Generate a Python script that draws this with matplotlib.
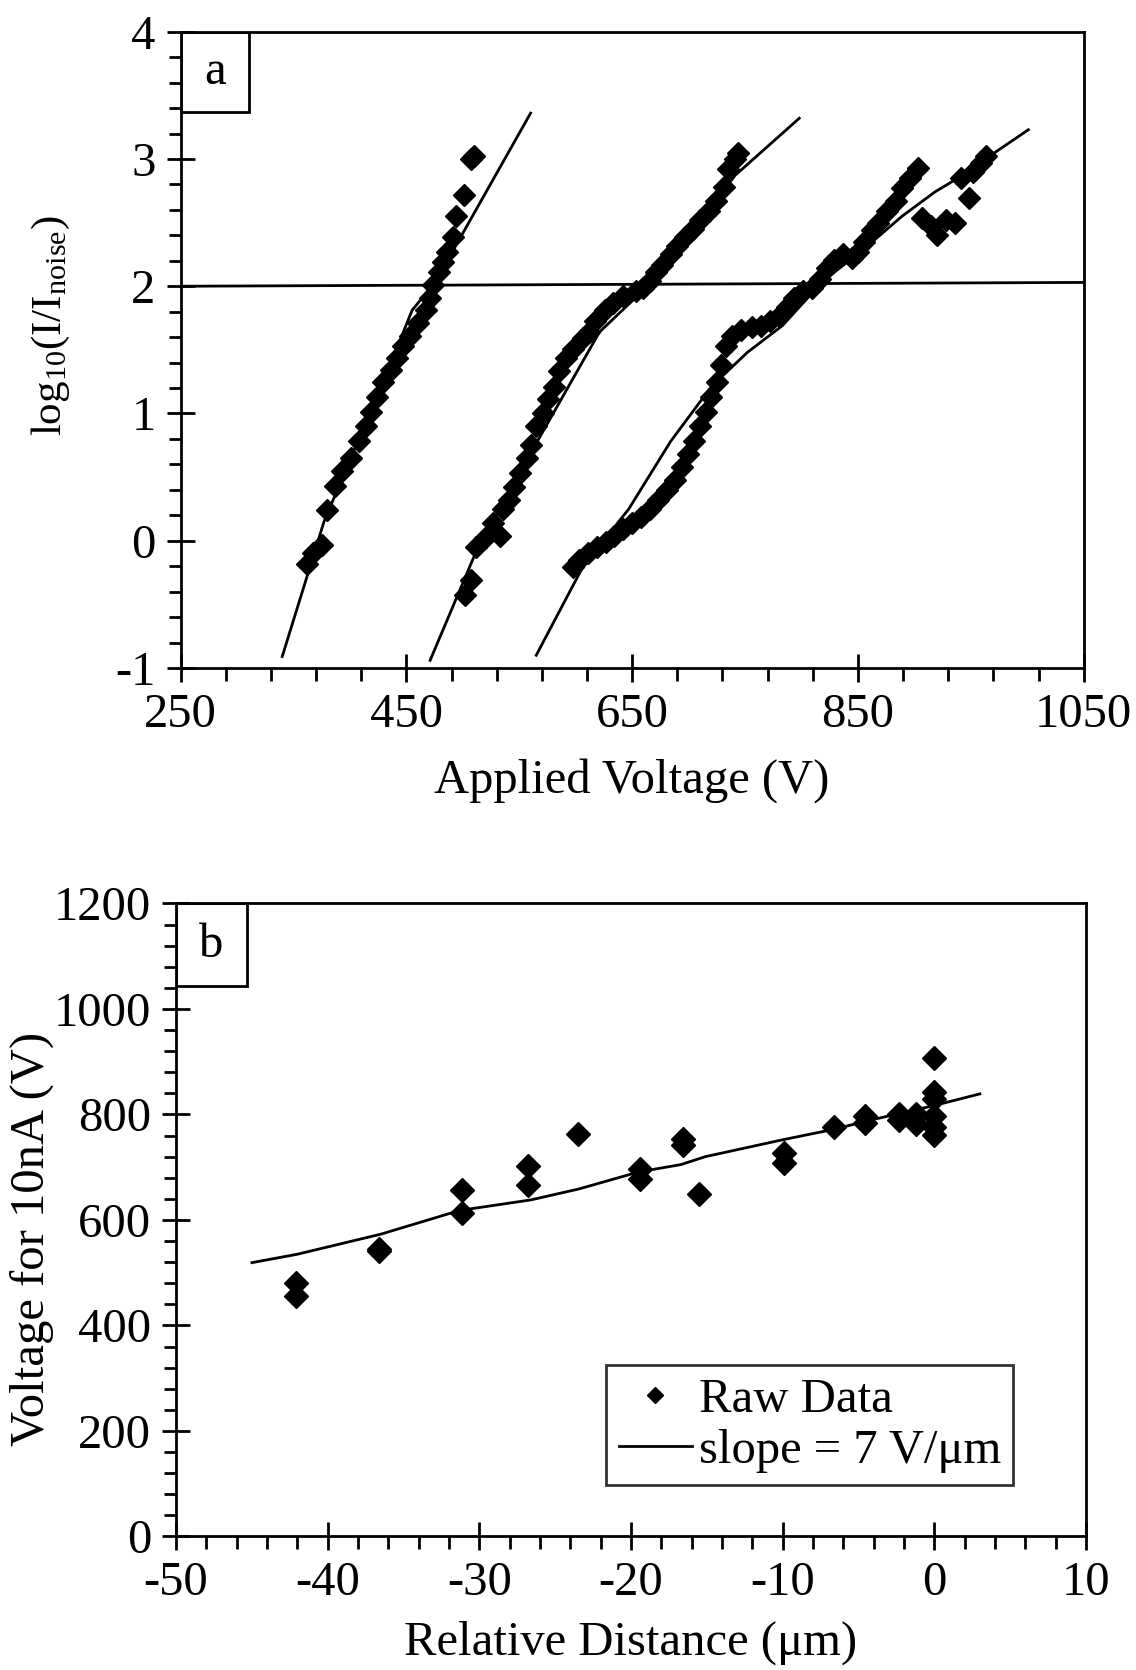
import numpy as np
import matplotlib
matplotlib.use('Agg')
import matplotlib.pyplot as plt
from matplotlib.patches import Rectangle
from matplotlib.ticker import MultipleLocator

plt.rcParams['font.family'] = ['Liberation Serif', 'DejaVu Serif']
plt.rcParams['mathtext.fontset'] = 'custom'
plt.rcParams['mathtext.rm'] = 'Liberation Serif'
plt.rcParams['axes.unicode_minus'] = False

# ---- panel a: log10(I/Inoise) vs applied voltage, three curves ----
v1 = [362, 367, 375, 380, 387, 393, 401, 408, 414, 419, 424, 429, 436, 442, 447,
      453, 460, 467, 471, 474, 479, 482, 486, 491, 494, 501, 507, 510]
l1 = [-0.18, -0.10, -0.03, 0.24, 0.43, 0.55, 0.65, 0.78, 0.90, 1.01, 1.13, 1.25, 1.34, 1.44, 1.53,
      1.61, 1.71, 1.81, 1.91, 2.01, 2.11, 2.19, 2.27, 2.39, 2.55, 2.72, 3.00, 3.02]
fit1_v = [340, 377, 440, 455, 476, 560]
fit1_l = [-0.91, 0.15, 1.48, 1.81, 2.04, 3.36]

v2 = [502, 507, 512, 520, 527, 533, 536, 541, 545, 551, 557, 560, 565, 571, 575, 581, 585,
      591, 598, 606, 612, 617, 626, 633, 642, 653, 660, 666, 671, 676, 684, 690, 697, 704,
      710, 718, 724, 731, 735, 741, 744]
l2 = [-0.43, -0.31, -0.05, 0.02, 0.14, 0.04, 0.25, 0.32, 0.42, 0.53, 0.65, 0.75, 0.90, 1.00, 1.11, 1.21, 1.33,
      1.44, 1.51, 1.59, 1.64, 1.73, 1.81, 1.87, 1.92, 1.96, 1.99, 2.04, 2.11, 2.17, 2.25, 2.32, 2.39, 2.45,
      2.52, 2.59, 2.67, 2.78, 2.92, 3.00, 3.05]
fit2_v = [471, 512, 564, 596, 621, 653, 673, 741, 798]
fit2_l = [-0.94, -0.08, 0.75, 1.25, 1.64, 1.91, 2.07, 2.87, 3.32]

v3 = [598, 603, 611, 619, 627, 634, 642, 650, 658, 666, 673, 681, 688, 694, 699, 705, 710, 715,
      720, 725, 729, 733, 738, 746, 756, 764, 772, 780, 787, 793, 801, 809, 816, 823, 829, 837,
      845, 850, 855, 862, 868, 876, 884, 889, 896, 903, 907, 915, 920, 928, 936, 941, 948, 952,
      959, 963]
l3 = [-0.21, -0.15, -0.10, -0.05, -0.01, 0.04, 0.09, 0.14, 0.19, 0.25, 0.32, 0.40, 0.48, 0.58, 0.68, 0.78, 0.90, 1.01,
      1.13, 1.25, 1.38, 1.53, 1.61, 1.66, 1.68, 1.69, 1.73, 1.77, 1.84, 1.91, 1.96, 1.99, 2.06, 2.14, 2.21, 2.25,
      2.22, 2.27, 2.35, 2.44, 2.50, 2.59, 2.67, 2.77, 2.85, 2.93, 2.54, 2.47, 2.40, 2.52, 2.50, 2.85, 2.69, 2.90,
      2.97, 3.02]
fit3_v = [565, 606, 647, 684, 720, 752, 783, 819, 855, 889, 918, 933, 1001]
fit3_l = [-0.90, -0.21, 0.25, 0.78, 1.21, 1.48, 1.69, 2.04, 2.29, 2.55, 2.74, 2.82, 3.23]

noise_v = [250, 1050]
noise_l = [2.0, 2.03]
xticks_a = [250, 450, 650, 850, 1050]

# ---- panel b: voltage for 10 nA vs relative distance ----
dist = [-42.1, -42.1, -36.6, -36.6, -31.15, -31.15, -26.8, -26.8, -23.5, -19.4, -19.4,
        -16.6, -16.6, -15.5, -9.9, -9.9, -6.6, -4.55, -4.55, -2.3, -2.3, -1.2, -1.2,
        0, 0, 0, 0, 0, 0]
volt = [480, 455, 541, 545, 656, 614, 703, 667, 762, 697, 677,
        754, 742, 649, 726, 707, 777, 797, 783, 801, 789, 801, 781,
        907, 842, 829, 797, 777, 761]
fitb_d = [-45, -42, -36.5, -31.3, -26.6, -23.4, -19.5, -16.7, -15.1, -10, -6.6, -4.4, 0, 3]
fitb_v = [519, 535, 573, 618, 638, 659, 691, 705, 720, 752, 772, 788, 817, 839]

fig = plt.figure(figsize=(11.36, 16.70), dpi=100)
axa = fig.add_axes([0.159, 0.600, 0.795, 0.381])
axb = fig.add_axes([0.155, 0.080, 0.801, 0.379])

fs = 35
mk = dict(marker='D', color='black', linestyle='none')

for v, l, fv, fl in [(v1, l1, fit1_v, fit1_l), (v2, l2, fit2_v, fit2_l), (v3, l3, fit3_v, fit3_l)]:
    axa.plot(v, l, markersize=11, **mk)
    axa.plot(fv, fl, color='black', lw=2)
axa.plot(noise_v, noise_l, color='black', lw=2)
axa.set_xlim(250, 1050)
axa.set_ylim(-1, 4)
axa.set_xticks(xticks_a)
axa.set_xticks(np.arange(250, 1051, 40), minor=True)
axa.yaxis.set_major_locator(MultipleLocator(1))
axa.yaxis.set_minor_locator(MultipleLocator(0.2))
axa.set_xlabel('Applied Voltage (V)', fontsize=fs, labelpad=15)
axa.set_ylabel(r'$\mathrm{log_{10}(I/I_{noise})}$', fontsize=31)
axa.yaxis.set_label_coords(-0.12, 0.538)

axb.plot(dist, volt, markersize=12.5, **mk)
axb.plot(fitb_d, fitb_v, color='black', lw=2)
axb.set_xlim(-50, 10)
axb.set_ylim(0, 1200)
axb.xaxis.set_major_locator(MultipleLocator(10))
axb.xaxis.set_minor_locator(MultipleLocator(2))
axb.yaxis.set_major_locator(MultipleLocator(200))
axb.yaxis.set_minor_locator(MultipleLocator(40))
axb.set_xlabel('Relative Distance (μm)', fontsize=fs, labelpad=11)
axb.set_ylabel('Voltage for 10nA (V)', fontsize=fs)
axb.yaxis.set_label_coords(-0.134, 0.47)

leg = axb.legend(['Raw Data', 'slope = 7 V/μm'], loc='lower right',
                 bbox_to_anchor=(0.92, 0.081), fontsize=fs, frameon=True,
                 fancybox=False, edgecolor='black', handlelength=1.5,
                 handletextpad=0.15, borderpad=0.25, labelspacing=0.15,
                 markerscale=0.65, borderaxespad=0)
leg.get_frame().set_linewidth(2)

for ax, lab, bw, bh in [(axa, 'a', 0.076, 0.126), (axb, 'b', 0.078, 0.130)]:
    for s in ax.spines.values():
        s.set_linewidth(2)
    ax.tick_params(which='major', direction='inout', length=20, width=2,
                   labelsize=fs, pad=8)
    ax.tick_params(which='minor', direction='out', length=9, width=2)
    ax.add_patch(Rectangle((0, 1 - bh), bw, bh, transform=ax.transAxes,
                           fill=False, edgecolor='black', lw=2, zorder=5))
    ax.text(bw / 2, 1 - bh / 2, lab, transform=ax.transAxes, fontsize=fs,
            ha='center', va='center')

fig.savefig('out.png', dpi=100)
